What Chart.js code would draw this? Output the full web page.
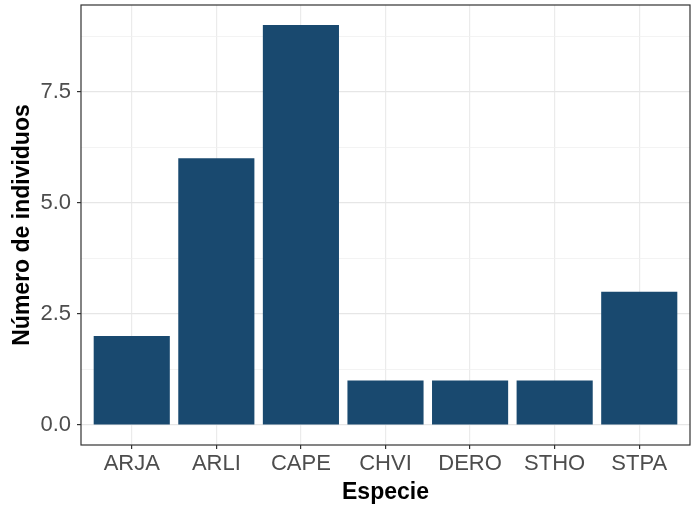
<!DOCTYPE html>
<html>
<head>
<meta charset="utf-8">
<script src="https://cdn.jsdelivr.net/npm/chart.js@4"></script>
<style>
  html, body { margin: 0; padding: 0; background: #fff; }
  canvas { display: block; }
</style>
</head>
<body>
<canvas id="speciesChart" width="698" height="507"></canvas>
<script>
"use strict";

const species = ["ARJA", "ARLI", "CAPE", "CHVI", "DERO", "STHO", "STPA"];
const counts = [2, 6, 9, 1, 1, 1, 3];
const yTicks = [0, 1.25, 2.5, 3.75, 5, 6.25, 7.5, 8.75];

const isMajor = v => Math.abs(v / 2.5 - Math.round(v / 2.5)) < 1e-6;

// panel border drawn on top like ggplot's theme_bw
const panelBorder = {
  id: "panelBorder",
  afterDatasetsDraw(chart) {
    const { ctx, chartArea } = chart;
    ctx.save();
    ctx.strokeStyle = "#333333";
    ctx.lineWidth = 1.2;
    ctx.strokeRect(chartArea.left, chartArea.top, chartArea.right - chartArea.left, chartArea.bottom - chartArea.top);
    ctx.restore();
  }
};

const ctx = document.getElementById("speciesChart").getContext("2d");
new Chart(ctx, {
  type: "bar",
  data: {
    datasets: [{
      data: species.map((s, i) => ({ x: i + 1, y: counts[i] })),
      backgroundColor: "#19496f",
      borderWidth: 0,
      categoryPercentage: 1,
      barPercentage: 0.9
    }]
  },
  options: {
    responsive: false,
    animation: false,
    devicePixelRatio: 1,
    layout: { padding: { top: 5, right: 8, left: 0, bottom: 0 } },
    plugins: { legend: { display: false }, tooltip: { enabled: false } },
    scales: {
      x: {
        type: "linear",
        min: 0.4,
        max: 7.6,
        offset: false,
        afterBuildTicks: axis => { axis.ticks = species.map((s, i) => ({ value: i + 1 })); },
        afterFit: axis => {
          axis.height = 62;
          axis.paddingLeft = 0;
          axis.paddingRight = 0;
        },
        grid: {
          offset: false,
          color: "#ebebeb",
          lineWidth: 1.2,
          tickColor: "#333333",
          tickLength: 4,
          tickWidth: 1.2
        },
        border: { display: false },
        ticks: {
          autoSkip: false,
          maxRotation: 0,
          padding: 2,
          color: "#4d4d4d",
          font: { family: "Liberation Sans, Arial", size: 22 },
          callback: v => species[v - 1] || ""
        },
        title: {
          display: true,
          text: "Especie",
          color: "#000000",
          padding: { top: 0, bottom: 1 },
          font: { family: "Liberation Sans, Arial", size: 23, weight: "bold" }
        }
      },
      y: {
        min: -0.45,
        max: 9.45,
        afterBuildTicks: axis => { axis.ticks = yTicks.map(v => ({ value: v })); },
        afterFit: axis => {
          axis.width = 81;
          axis.paddingTop = 0;
          axis.paddingBottom = 0;
        },
        grid: {
          color: c => isMajor(c.tick.value) ? "#e6e6e6" : "#f0f0f0",
          lineWidth: c => isMajor(c.tick.value) ? 1.2 : 0.8,
          tickColor: c => isMajor(c.tick.value) ? "#333333" : "rgba(0,0,0,0)",
          tickLength: 4,
          tickWidth: 1.2
        },
        border: { display: false },
        ticks: {
          autoSkip: false,
          padding: 6,
          color: "#4d4d4d",
          font: { family: "Liberation Sans, Arial", size: 22 },
          callback: v => isMajor(v) ? v.toFixed(1) : ""
        },
        title: {
          display: true,
          text: "Número de individuos",
          color: "#000000",
          padding: { top: 9, bottom: 0 },
          font: { family: "Liberation Sans, Arial", size: 23, weight: "bold" }
        }
      }
    }
  },
  plugins: [panelBorder]
});
</script>
</body>
</html>
